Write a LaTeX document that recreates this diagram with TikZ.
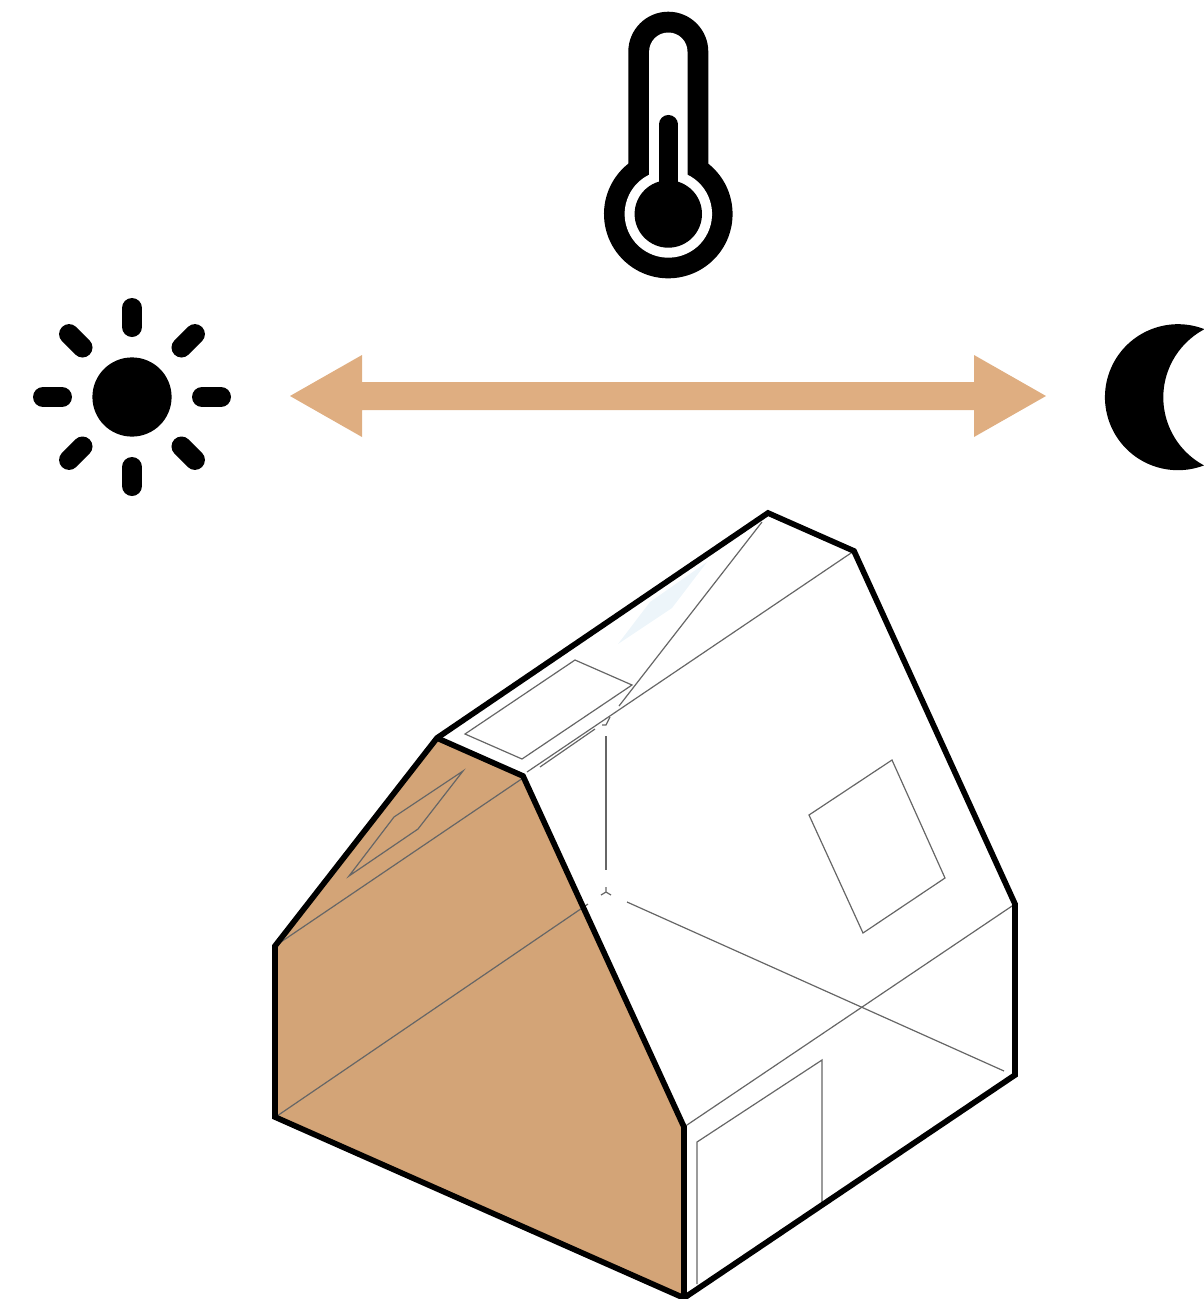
\documentclass[tikz,border=0pt]{standalone}
\definecolor{tan1}{HTML}{DFAE81}
\definecolor{wallc}{HTML}{D3A477}
\definecolor{thin}{HTML}{666666}
\definecolor{glass}{HTML}{EDF5FA}
\tikzset{
  outline/.style={draw=black,line width=5.7pt,line join=miter},
  fine/.style={draw=thin,line width=1.2pt},
  ray/.style={draw=black,line width=20pt,line cap=round},
}
\begin{document}
\begin{tikzpicture}[x=1pt,y=-1pt]
\useasboundingbox (0,0) rectangle (1204,1299);
% thermometer
\fill[black] (628.3,51.7) arc[start angle=180,end angle=360,radius=40] -- (708.3,163.7)
  arc[start angle=-51.5,end angle=231.5,radius=64.3] -- cycle;
\fill[white] (649.1,51.7) arc[start angle=180,end angle=360,radius=19.2] -- (687.5,174.7)
  arc[start angle=-64,end angle=244,radius=43.7] -- cycle;
\fill[black] (668.3,214) circle[radius=33.7];
\draw[black,line width=18.7pt,line cap=round] (668.3,124.3) -- (668.3,200);
% sun
\fill[black] (132,397) circle[radius=39.6];
\foreach \a in {0,45,...,315}{
  \draw[ray] (132,397) ++(\a:70) -- ++(\a:19);
}
% arrow
\fill[tan1] (290,396) -- (362,355) -- (362,382) -- (974,382) -- (974,355) -- (1046,396) -- (974,437) -- (974,410) -- (362,410) -- (362,437) -- cycle;
% moon
\fill[black] (1204,329) arc[start angle=290.9,end angle=69.1,radius=73]
  arc[start angle=118.2,end angle=241.8,radius=77.15] -- cycle;
% house
\coordinate (ridgeL) at (437,738);
\coordinate (ridgeR) at (768,513);
\coordinate (eaveTR) at (854,551);
\coordinate (eaveFL) at (523,776);
\coordinate (wallBL) at (275,1117);
\coordinate (wallTL) at (275,946);
\coordinate (frontT) at (684,1127);
\coordinate (frontB) at (684,1298);
\coordinate (rightT) at (1015,904);
\coordinate (rightB) at (1015,1075);
\fill[wallc] (ridgeL) -- (eaveFL) -- (frontT) -- (frontB) -- (wallBL) -- (wallTL) -- cycle;
\fill[glass] (707,562) -- (672,608) -- (618,644) -- (650,602) -- cycle;
% fine lines
\draw[fine] (wallTL) -- (523,778);
\draw[fine] (527,772) -- (854,551);
\draw[fine] (277,1116) -- (588,904);
\draw[fine] (frontT) -- (rightT);
\draw[fine] (627,902) -- (1004,1071);
\draw[fine] (762,522) -- (619,706);
\draw[fine] (606,736) -- (606,870);
\draw[fine] (540,767) -- (595,729);
\draw[fine] (602,725) -- (606,725) -- (610,717);
\draw[fine] (606,887) -- (606,892) (606,892) -- (601,895) (606,892) -- (611,895);
\draw[fine] (465,734) -- (575,660) -- (632,685) -- (522,759) -- cycle;
\draw[fine] (349,876) -- (394,817) -- (463,771) -- (418,829) -- cycle;
\draw[fine] (809,815) -- (892,760) -- (945,878) -- (863,933) -- cycle;
\draw[fine] (697,1284) -- (697,1142) -- (822,1060) -- (822,1203);
% outline
\draw[outline] (wallTL) -- (ridgeL) -- (ridgeR) -- (eaveTR) -- (rightT) -- (rightB) -- (frontB) -- (wallBL) -- cycle;
\draw[outline] (ridgeL) -- (eaveFL) -- (frontT) -- (frontB);
\end{tikzpicture}
\end{document}
